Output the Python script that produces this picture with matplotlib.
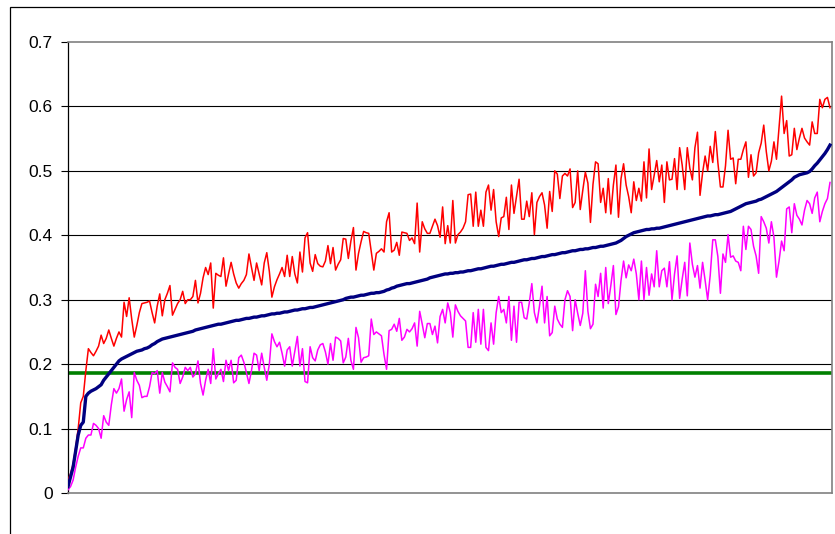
import matplotlib
matplotlib.use("Agg")
import matplotlib.pyplot as plt
from matplotlib.patches import Rectangle
import numpy as np

# ---- data ----
upper = [
    .02, .03, .045, .07, .10, .14, .15, .19, .224, .218,
    .213, .22, .228, .245, .232, .24, .253, .24, .228, .24,
    .25, .242, .296, .274, .303, .27, .242, .26, .28, .294,
    .295, .296, .298, .28, .264, .29, .309, .275, .30, .31,
    .322, .276, .285, .294, .30, .313, .294, .30, .30, .305,
    .33, .295, .31, .334, .35, .339, .357, .287, .341, .338,
    .336, .365, .321, .34, .358, .34, .326, .318, .325, .33,
    .339, .371, .35, .33, .357, .34, .323, .357, .373, .344,
    .304, .32, .331, .34, .35, .336, .369, .336, .367, .34,
    .326, .374, .343, .396, .404, .357, .344, .37, .356, .352,
    .351, .36, .384, .356, .381, .346, .355, .362, .395, .394,
    .364, .391, .412, .346, .372, .39, .406, .404, .403, .374,
    .346, .372, .375, .379, .374, .421, .435, .374, .377, .389,
    .369, .405, .404, .403, .392, .396, .387, .45, .374, .421,
    .41, .403, .403, .414, .425, .415, .397, .444, .387, .415,
    .388, .454, .388, .401, .405, .411, .421, .463, .464, .414,
    .467, .414, .439, .414, .467, .478, .439, .471, .421, .398,
    .427, .429, .459, .409, .478, .434, .46, .487, .425, .425,
    .453, .429, .466, .401, .451, .46, .466, .447, .411, .468,
    .437, .50, .495, .457, .492, .496, .492, .503, .443, .451,
    .50, .44, .47, .498, .481, .42, .479, .514, .511, .451,
    .473, .435, .488, .433, .478, .509, .428, .488, .511, .478,
    .46, .435, .483, .454, .473, .453, .514, .458, .534, .471,
    .493, .516, .483, .509, .451, .514, .486, .487, .519, .471,
    .536, .509, .471, .536, .504, .486, .536, .56, .462, .497,
    .523, .50, .538, .513, .561, .513, .475, .475, .508, .563,
    .518, .52, .48, .518, .518, .533, .545, .49, .525, .492,
    .497, .528, .543, .571, .53, .50, .515, .545, .518, .568,
    .616, .558, .578, .523, .525, .566, .533, .551, .566, .551,
    .545, .54, .576, .558, .558, .611, .598, .611, .614, .598,
]

mean = [
    .010, .025, .040, .065, .090, .105, .110, .150, .155, .158,
    .160, .162, .165, .168, .175, .180, .185, .190, .195, .200,
    .205, .208, .210, .212, .214, .216, .218, .220, .221, .222,
    .224, .225, .227, .230, .232, .235, .237, .239, .240, .241,
    .242, .243, .244, .245, .246, .247, .248, .249, .250, .251,
    .253, .254, .255, .256, .257, .258, .259, .260, .261, .262,
    .262, .263, .264, .265, .266, .267, .268, .268, .269, .270,
    .271, .271, .272, .273, .273, .274, .275, .275, .276, .277,
    .278, .278, .279, .279, .280, .281, .281, .282, .283, .284,
    .284, .285, .286, .286, .287, .288, .288, .289, .290, .291,
    .292, .293, .294, .295, .296, .297, .298, .299, .300, .302,
    .303, .304, .304, .305, .306, .307, .307, .308, .309, .310,
    .310, .311, .311, .312, .313, .315, .316, .318, .319, .321,
    .322, .323, .324, .325, .325, .326, .327, .328, .329, .330,
    .331, .332, .334, .335, .336, .337, .338, .339, .340, .340,
    .341, .341, .342, .342, .343, .343, .344, .345, .345, .346,
    .347, .348, .348, .349, .350, .351, .352, .352, .353, .354,
    .355, .355, .356, .357, .358, .358, .359, .360, .361, .362,
    .362, .363, .364, .364, .365, .366, .367, .367, .368, .369,
    .370, .370, .371, .372, .373, .373, .374, .375, .376, .376,
    .377, .378, .378, .379, .379, .380, .381, .381, .382, .383,
    .383, .384, .385, .386, .387, .388, .390, .392, .395, .398,
    .400, .402, .404, .405, .406, .407, .408, .409, .409, .410,
    .410, .411, .411, .412, .413, .414, .415, .416, .417, .418,
    .419, .420, .421, .422, .423, .424, .425, .426, .427, .428,
    .429, .430, .430, .431, .432, .432, .433, .434, .435, .436,
    .437, .439, .441, .443, .445, .447, .449, .450, .451, .452,
    .453, .455, .456, .458, .460, .462, .464, .466, .468, .471,
    .474, .477, .480, .483, .486, .490, .492, .494, .495, .496,
    .497, .499, .503, .508, .512, .517, .522, .527, .533, .540,
]

lower = [
    .005, .01, .02, .04, .057, .07, .07, .085, .09, .09,
    .108, .105, .10, .085, .12, .11, .105, .137, .162, .155,
    .162, .177, .127, .145, .157, .117, .187, .175, .167, .148,
    .15, .15, .165, .187, .185, .19, .155, .187, .172, .165,
    .157, .202, .195, .192, .17, .18, .195, .19, .195, .18,
    .185, .205, .17, .152, .175, .192, .17, .224, .177, .185,
    .192, .173, .206, .19, .206, .171, .175, .21, .214, .203,
    .187, .17, .19, .217, .214, .19, .217, .195, .175, .20,
    .247, .235, .227, .234, .217, .197, .222, .227, .197, .22,
    .243, .197, .224, .173, .171, .227, .21, .205, .222, .23,
    .232, .219, .20, .232, .206, .242, .24, .236, .202, .211,
    .24, .206, .192, .257, .241, .203, .21, .211, .213, .27,
    .246, .25, .247, .244, .215, .192, .252, .254, .262, .251,
    .271, .237, .242, .254, .25, .255, .264, .228, .282, .262,
    .241, .263, .263, .246, .259, .233, .274, .285, .264, .295,
    .28, .242, .292, .282, .275, .271, .267, .226, .226, .28,
    .234, .285, .231, .285, .226, .221, .264, .231, .28, .305,
    .28, .285, .264, .305, .237, .29, .234, .296, .296, .272,
    .27, .295, .325, .28, .264, .29, .321, .264, .305, .244,
    .249, .29, .27, .262, .257, .30, .314, .305, .252, .30,
    .279, .26, .279, .345, .282, .255, .262, .324, .305, .341,
    .287, .35, .294, .322, .353, .277, .289, .33, .36, .334,
    .354, .345, .363, .34, .30, .36, .30, .35, .307, .34,
    .32, .376, .32, .345, .349, .32, .359, .30, .34, .368,
    .302, .332, .358, .306, .388, .355, .335, .353, .318, .358,
    .33, .30, .338, .393, .393, .367, .31, .371, .358, .401,
    .366, .368, .36, .358, .345, .414, .378, .414, .409, .383,
    .368, .341, .429, .421, .411, .388, .421, .397, .335, .36,
    .391, .376, .441, .444, .404, .449, .431, .425, .416, .439,
    .454, .449, .434, .458, .467, .421, .437, .449, .457, .482,
]

threshold = 0.186
y_ticks = [0, 0.1, 0.2, 0.3, 0.4, 0.5, 0.6, 0.7]
y_tick_labels = ["0", "0.1", "0.2", "0.3", "0.4", "0.5", "0.6", "0.7"]

# ---- figure ----
W, H = 835, 534
fig = plt.figure(figsize=(W / 100, H / 100), dpi=100)
fig.patch.set_facecolor("white")

# outer chart border (cropped at right / bottom)
fig.patches.append(Rectangle((10 / W, -0.05), 1.2, (H - 7) / H + 0.05,
                             transform=fig.transFigure, fill=False,
                             edgecolor="black", linewidth=0.9))

ax = fig.add_axes([68 / W, 41 / H, (832 - 68) / W, (493 - 42) / H])
x = np.arange(len(mean))
n = len(mean)

ax.set_xlim(0, (n - 1) + 2 / (762 / (n - 1)))
ax.set_ylim(0, 0.7)

for v in y_ticks[1:-1]:
    ax.axhline(v, color="black", linewidth=0.8, zorder=1)

ax.axhline(threshold, color="#008000", linewidth=2.6, zorder=2)
ax.plot(x, lower, color="#FF00FF", linewidth=1.1, zorder=3)
ax.plot(x, upper, color="#FF0000", linewidth=1.1, zorder=3)
ax.plot(x, mean, color="#000080", linewidth=2.4, zorder=4)

ax.set_yticks(y_ticks)
ax.set_yticklabels(y_tick_labels, fontfamily="Liberation Sans", fontsize=12.5)
ax.set_xticks([])
ax.tick_params(axis="y", direction="out", length=5, width=0.8, pad=6,
               colors="black")

ax.spines["left"].set_color("black")
ax.spines["left"].set_linewidth(0.9)
for s in ("top", "right", "bottom"):
    ax.spines[s].set_color("#808080")
    ax.spines[s].set_linewidth(1.2)

fig.savefig("out.png", dpi=100, facecolor="white")
